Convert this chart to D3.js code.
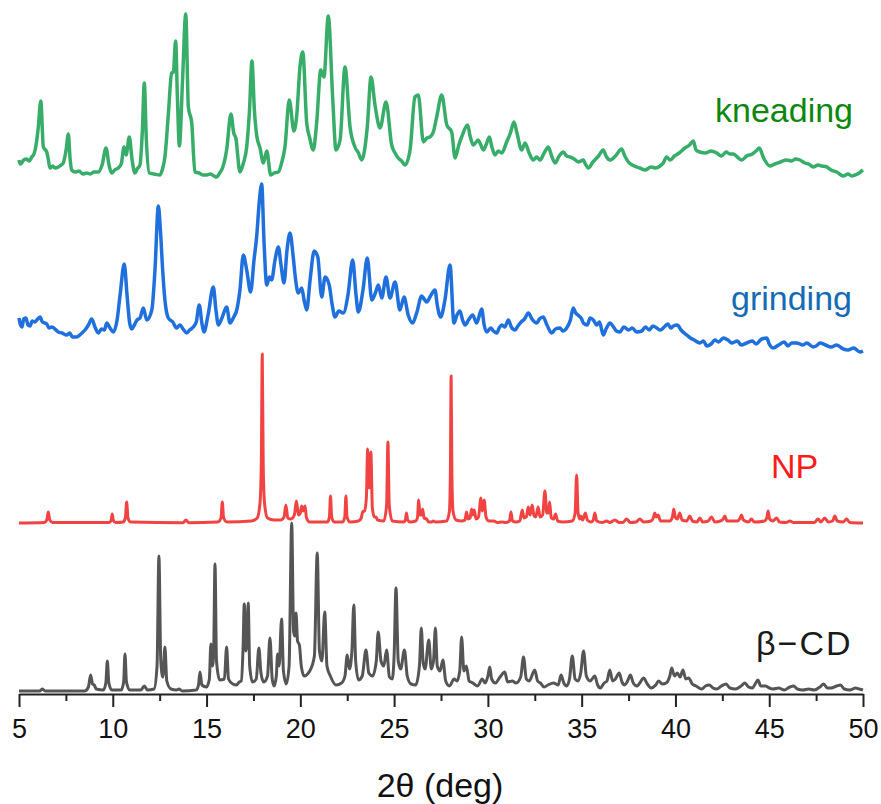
<!DOCTYPE html>
<html>
<head>
<meta charset="utf-8">
<script src="https://cdn.jsdelivr.net/npm/d3@7"></script>
<style>
  html, body { margin: 0; padding: 0; background: #fff; }
  svg { display: block; }
</style>
</head>
<body>
<svg id="chart" width="881" height="804"></svg>
<script>
// ---------------- DATA (2θ in degrees, intensity in a.u. above each trace's own baseline) ----------------
const seriesNames = ["β−CD", "NP", "grinding", "kneading"];
const xTickValues = [5, 10, 15, 20, 25, 30, 35, 40, 45, 50];
const xMinorTickValues = [7.5, 12.5, 17.5, 22.5, 27.5, 32.5, 37.5, 42.5, 47.5];

const betaCD = [[5.0,0],[6.1,0],[6.24,2],[6.4,0],[8.5,0],[8.7,4],[8.82,16],[8.92,7],[9.01,6],[9.12,2],[9.5,1],[9.63,8],[9.71,30],[9.79,8],[9.95,1],[10.45,1],[10.58,9],[10.65,37],[10.73,9],[10.9,1],[11.5,1],[11.68,5],[11.85,1],[12.2,2],[12.36,25],[12.46,135],[12.56,30],[12.67,14],[12.78,44],[12.88,10],[13.1,2],[13.4,1],[13.53,2],[13.7,0],[14.45,1],[14.57,6],[14.65,19],[14.75,6],[15.0,4],[15.15,12],[15.23,47],[15.32,25],[15.38,40],[15.45,127],[15.53,30],[15.7,11],[15.95,12],[16.07,44],[16.17,12],[16.4,7],[16.6,6],[16.74,9],[16.85,10],[16.95,45],[17.01,87],[17.1,40],[17.16,50],[17.22,88],[17.3,25],[17.45,9],[17.65,12],[17.79,43],[17.9,18],[18.05,9],[18.25,15],[18.38,53],[18.5,12],[18.6,5],[18.72,15],[18.79,37],[18.87,25],[19.0,72],[19.1,20],[19.25,7],[19.4,25],[19.54,168],[19.64,60],[19.7,55],[19.77,78],[19.85,50],[19.95,46],[20.05,25],[20.2,15],[20.5,20],[20.75,35],[20.9,138],[21.02,40],[21.15,30],[21.3,79],[21.42,25],[21.6,15],[21.9,6],[22.2,8],[22.38,15],[22.5,36],[22.62,22],[22.75,40],[22.85,86],[22.95,30],[23.1,11],[23.3,15],[23.5,41],[23.65,18],[23.85,15],[24.05,30],[24.15,59],[24.3,30],[24.45,25],[24.6,41],[24.75,14],[24.9,12],[25.0,35],[25.1,103],[25.22,30],[25.35,22],[25.55,41],[25.7,15],[25.9,7],[26.15,6],[26.35,25],[26.45,63],[26.55,28],[26.65,22],[26.85,51],[26.98,22],[27.1,30],[27.2,63],[27.3,25],[27.45,20],[27.6,31],[27.75,10],[27.95,5],[28.2,12],[28.35,10],[28.5,20],[28.6,54],[28.72,20],[28.85,25],[29.0,10],[29.2,8],[29.45,5],[29.7,12],[29.85,8],[30.0,15],[30.1,24],[30.2,12],[30.4,8],[30.65,14],[30.9,19],[31.05,9],[31.3,10],[31.5,8],[31.75,14],[31.9,34],[32.05,12],[32.2,10],[32.5,21],[32.65,10],[32.8,8],[33.0,4],[33.2,6],[33.5,8],[33.75,6],[33.9,16],[34.05,8],[34.2,5],[34.35,12],[34.5,35],[34.65,12],[34.8,10],[34.95,18],[35.1,40],[35.25,15],[35.45,10],[35.7,15],[35.85,6],[36.0,3],[36.2,8],[36.35,10],[36.5,21],[36.65,10],[36.8,12],[37.0,18],[37.15,9],[37.3,6],[37.45,10],[37.6,16],[37.75,8],[37.95,5],[38.1,8],[38.3,13],[38.5,7],[38.7,3],[38.95,6],[39.1,10],[39.3,7],[39.5,8],[39.7,15],[39.8,23],[39.95,15],[40.1,18],[40.25,14],[40.4,21],[40.55,12],[40.7,13],[40.9,7],[41.1,5],[41.4,2],[41.6,5],[41.8,6],[42.0,3],[42.2,2],[42.45,5],[42.7,7],[42.9,3],[43.2,2],[43.5,5],[43.7,8],[43.9,4],[44.1,3],[44.25,7],[44.4,11],[44.55,5],[44.8,5],[45.0,3],[45.2,2],[45.5,3],[45.8,1],[46.1,4],[46.3,5],[46.5,2],[46.8,1],[47.1,2],[47.4,1],[47.7,4],[47.9,7],[48.1,3],[48.3,3],[48.6,5],[48.8,6],[49.0,2],[49.3,1],[49.6,3],[49.8,2],[50.0,1]];

const np = [[5.0,0],[6.35,0.5],[6.48,3],[6.56,11],[6.64,3],[6.8,0.5],[9.8,0.5],[9.91,2.5],[9.97,9],[10.03,2.5],[10.15,0.5],[10.55,1],[10.67,5],[10.74,21],[10.81,5],[10.95,1],[13.75,0.3],[13.9,3],[14.05,0.3],[15.6,1],[15.77,5],[15.84,21],[15.91,5],[16.1,1],[17.4,2],[17.7,5],[17.85,20],[17.92,60],[17.97,169],[18.02,60],[18.09,20],[18.25,5],[18.6,3],[18.95,3],[19.13,6],[19.23,18],[19.33,5],[19.5,4],[19.68,8],[19.79,22],[19.9,8],[20.0,10],[20.07,17],[20.15,12],[20.25,17],[20.33,5],[20.5,1],[21.45,1],[21.55,6],[21.61,27],[21.67,6],[21.8,1],[22.25,1],[22.37,6],[22.43,27],[22.49,6],[22.65,1],[23.1,2],[23.25,5],[23.32,11],[23.42,12],[23.52,25],[23.59,74],[23.67,35],[23.7,40],[23.76,71],[23.84,15],[23.95,6],[24.03,6],[24.12,3],[24.45,2],[24.6,18],[24.67,81],[24.74,18],[24.9,2],[25.5,1],[25.6,3],[25.66,10],[25.72,3],[25.85,1],[26.15,2],[26.25,6],[26.31,23],[26.38,8],[26.45,8],[26.52,14],[26.6,5],[26.73,4],[26.85,1],[27.0,1],[27.08,2],[27.2,1],[27.8,2],[27.95,12],[28.0,50],[28.04,147],[28.08,50],[28.14,12],[28.3,3],[28.6,2],[28.78,3],[28.86,11],[28.95,4],[29.05,5],[29.13,14],[29.2,8],[29.27,13],[29.37,4],[29.5,6],[29.63,25],[29.7,12],[29.8,23],[29.9,6],[30.05,2],[30.32,2],[30.5,0.5],[30.75,1],[30.95,0.5],[31.15,2],[31.23,11],[31.31,2],[31.5,1],[31.7,2],[31.83,13],[31.93,5],[32.05,6],[32.15,16],[32.25,8],[32.36,18],[32.45,8],[32.55,6],[32.68,16],[32.78,6],[32.92,8],[33.04,32],[33.14,10],[33.22,10],[33.29,21],[33.38,5],[33.5,4],[33.61,9],[33.72,2],[34.0,1],[34.5,2],[34.65,10],[34.73,48],[34.81,10],[34.9,4],[34.96,7],[35.05,3],[35.2,10],[35.3,3],[35.5,1],[35.62,3],[35.7,10],[35.8,2],[36.1,0.5],[36.33,2],[36.5,0.5],[36.77,3],[37.0,0.5],[37.2,0.5],[37.39,4],[37.6,0.5],[37.9,1],[38.1,4],[38.3,1],[38.7,2],[38.82,5],[38.9,10],[38.98,6],[39.08,8],[39.2,2],[39.7,2],[39.84,6],[39.91,14],[39.99,6],[40.1,4],[40.23,10],[40.35,3],[40.6,2],[40.77,7],[40.9,2],[41.15,1],[41.3,5],[41.45,1],[41.75,2],[41.92,6],[42.1,1],[42.4,2],[42.55,4],[42.63,7],[42.75,2],[43.3,2],[43.45,5],[43.52,8],[43.62,3],[43.9,1],[44.05,4],[44.2,1],[44.75,2],[44.87,5],[44.94,12],[45.02,4],[45.2,2],[45.39,5],[45.55,1],[45.9,0.5],[46.1,2],[46.3,0.5],[47.4,0.5],[47.61,4],[47.75,1],[47.96,5],[48.15,1],[48.38,2],[48.5,7],[48.62,2],[48.95,1],[49.12,4],[49.3,0.5],[50.0,0]];

const grinding = [[5.0,37],[5.08,30],[5.16,28],[5.25,36],[5.37,37],[5.48,30],[5.59,29],[5.7,34],[5.85,33],[5.95,35],[6.12,38],[6.25,33],[6.48,31],[6.6,27],[6.75,28],[6.97,25],[7.1,23],[7.3,22],[7.54,20],[7.7,22],[7.85,18],[8.08,18],[8.3,21],[8.52,25],[8.7,30],[8.88,36],[9.05,28],[9.23,22],[9.4,26],[9.55,25],[9.68,32],[9.85,27],[10.03,23],[10.23,35],[10.39,60],[10.61,91],[10.76,60],[10.9,32],[11.01,26],[11.15,30],[11.29,35],[11.45,37],[11.63,47],[11.81,35],[12.08,45],[12.25,85],[12.43,149],[12.54,125],[12.66,85],[12.78,55],[12.96,37],[13.2,33],[13.4,27],[13.58,30],[13.75,26],[13.94,22],[14.1,25],[14.29,28],[14.45,33],[14.61,50],[14.75,32],[14.86,23],[15.08,40],[15.36,68],[15.5,45],[15.63,30],[15.82,37],[16.07,48],[16.25,32],[16.45,38],[16.61,45],[16.78,65],[16.96,100],[17.14,85],[17.35,63],[17.53,95],[17.67,118],[17.82,155],[17.94,171],[18.06,115],[18.21,70],[18.35,78],[18.47,75],[18.65,95],[18.83,108],[18.97,90],[19.13,72],[19.29,105],[19.45,122],[19.61,100],[19.75,75],[19.89,62],[20.07,67],[20.2,55],[20.34,45],[20.52,75],[20.74,104],[20.93,98],[21.14,58],[21.32,78],[21.54,70],[21.7,50],[21.85,38],[22.05,44],[22.29,42],[22.54,60],[22.79,95],[22.97,60],[23.09,43],[23.34,65],[23.57,97],[23.81,55],[24.0,62],[24.16,70],[24.34,57],[24.57,78],[24.78,57],[25.05,73],[25.31,45],[25.53,58],[25.75,40],[25.99,32],[26.2,42],[26.47,59],[26.6,56],[26.74,53],[26.97,60],[27.18,65],[27.3,50],[27.48,38],[27.71,55],[27.98,90],[28.19,32],[28.35,40],[28.51,44],[28.65,35],[28.78,30],[29.0,36],[29.19,40],[29.4,32],[29.67,46],[29.8,30],[29.94,23],[30.15,27],[30.3,24],[30.47,22],[30.6,27],[30.75,30],[30.9,28],[31.09,35],[31.25,28],[31.45,25],[31.6,29],[31.77,33],[31.95,36],[32.16,42],[32.35,36],[32.6,32],[32.75,36],[32.95,38],[33.15,30],[33.4,22],[33.6,26],[33.84,27],[34.0,24],[34.2,27],[34.4,35],[34.55,47],[34.68,42],[34.8,40],[35.0,36],[35.09,32],[35.3,30],[35.45,37],[35.62,35],[35.8,30],[35.95,33],[36.15,20],[36.3,26],[36.51,32],[36.7,28],[36.85,24],[37.04,23],[37.25,28],[37.5,25],[37.7,27],[37.93,23],[38.2,24],[38.4,28],[38.6,25],[38.8,29],[39.0,27],[39.2,25],[39.4,28],[39.6,31],[39.75,27],[39.89,29],[40.1,30],[40.3,25],[40.6,20],[40.8,17],[41.0,15],[41.3,12],[41.5,14],[41.67,9],[41.9,11],[42.1,15],[42.3,13],[42.55,17],[42.8,15],[43.0,12],[43.3,14],[43.5,10],[43.8,12],[44.1,14],[44.3,11],[44.6,16],[44.87,17],[45.0,11],[45.22,7],[45.5,10],[45.8,13],[46.0,9],[46.2,12],[46.47,12],[46.8,10],[47.0,12],[47.35,8],[47.5,9],[47.71,12],[48.0,10],[48.3,8],[48.6,10],[48.95,6],[49.2,5],[49.5,7],[49.84,3],[50.0,4]];

const kneading = [[5.0,18],[5.07,14],[5.14,15],[5.25,18],[5.41,19],[5.55,17],[5.68,21],[5.8,24],[5.91,33],[6.03,51],[6.16,77],[6.3,31],[6.48,26],[6.55,20],[6.65,10],[6.8,12],[6.92,10],[7.1,11],[7.25,13],[7.36,15],[7.51,28],[7.63,44],[7.72,20],[7.81,8],[8.0,6],[8.2,7],[8.4,4],[8.61,5],[8.8,4],[9.0,6],[9.23,6],[9.43,13],[9.64,30],[9.8,13],[9.94,5],[10.1,8],[10.29,10],[10.45,14],[10.6,31],[10.71,23],[10.88,41],[11.03,18],[11.18,5],[11.3,9],[11.45,13],[11.58,48],[11.68,95],[11.79,38],[11.95,5],[12.2,4],[12.52,3],[12.65,9],[12.78,21],[12.96,63],[13.14,105],[13.23,106],[13.35,137],[13.45,78],[13.55,32],[13.72,98],[13.89,164],[14.03,71],[14.21,55],[14.38,6],[14.6,5],[14.8,3],[15.01,3],[15.2,4],[15.4,2],[15.54,1],[15.7,5],[15.85,10],[16.07,28],[16.3,64],[16.45,45],[16.56,40],[16.78,6],[16.95,14],[17.14,31],[17.29,68],[17.42,117],[17.55,68],[17.67,43],[17.85,30],[18.03,15],[18.21,27],[18.42,3],[18.6,5],[18.83,6],[19.0,15],[19.18,31],[19.41,78],[19.66,47],[19.81,63],[19.98,111],[20.13,126],[20.34,55],[20.5,40],[20.69,28],[20.87,55],[21.09,108],[21.26,101],[21.49,162],[21.73,78],[21.9,28],[22.12,38],[22.38,111],[22.65,51],[22.91,31],[23.1,25],[23.27,18],[23.57,51],[23.77,101],[23.98,73],[24.25,50],[24.57,76],[24.87,33],[25.05,25],[25.22,20],[25.4,17],[25.58,13],[25.85,28],[26.11,81],[26.29,83],[26.56,36],[26.75,40],[26.91,41],[27.09,46],[27.27,61],[27.54,83],[27.81,53],[28.07,46],[28.25,20],[28.45,33],[28.6,41],[28.92,53],[29.05,42],[29.22,33],[29.49,38],[29.6,34],[29.76,28],[29.9,33],[30.08,41],[30.2,32],[30.38,23],[30.55,27],[30.74,25],[31.0,36],[31.2,45],[31.39,56],[31.55,45],[31.8,28],[31.98,35],[32.2,25],[32.42,18],[32.6,21],[32.78,18],[33.0,25],[33.22,31],[33.4,22],[33.58,15],[33.8,22],[34.02,26],[34.2,22],[34.38,21],[34.6,19],[34.82,16],[35.09,18],[35.2,14],[35.35,10],[35.6,16],[35.9,22],[36.15,28],[36.3,22],[36.51,18],[36.8,22],[37.13,29],[37.3,22],[37.49,16],[37.8,12],[38.1,10],[38.38,8],[38.7,11],[38.95,10],[39.18,12],[39.35,15],[39.53,21],[39.71,18],[39.95,22],[40.2,25],[40.5,30],[40.75,33],[40.95,37],[41.1,28],[41.31,26],[41.6,25],[41.9,27],[42.2,25],[42.45,22],[42.7,26],[42.9,24],[43.09,24],[43.3,21],[43.53,18],[43.8,22],[44.1,24],[44.3,27],[44.47,30],[44.7,20],[45.04,12],[45.3,14],[45.6,16],[45.93,18],[46.2,17],[46.4,19],[46.64,18],[46.9,15],[47.1,14],[47.35,11],[47.6,13],[47.8,12],[48.07,11],[48.3,8],[48.6,6],[48.95,2],[49.2,4],[49.4,2],[49.57,3],[49.8,5],[49.93,7],[50.0,8]];

// ---------------- LAYOUT / STYLE ----------------
const traces = [
  { name: seriesNames[0], data: betaCD,   offset: 0,   line: "#555555", width: 3,   label: "#1a1a1a", lx: 756, ly: 655, ls: 2 },
  { name: seriesNames[1], data: np,       offset: 168, line: "#f24343", width: 3,   label: "#ff1a1a", lx: 771, ly: 478, ls: 0 },
  { name: seriesNames[2], data: grinding, offset: 336, line: "#1f6fdc", width: 3.5, label: "#156bb3", lx: 731, ly: 310, ls: 0 },
  { name: seriesNames[3], data: kneading, offset: 513, line: "#38ad6a", width: 3.5, label: "#0d870d", lx: 715, ly: 122, ls: 0 }
];

const svg = d3.select("#chart");
const x = d3.scaleLinear().domain([5, 50]).range([19, 863]);
const y = d3.scaleLinear().domain([0, 680]).range([691, 11]);
const font = "'Liberation Sans', Arial, Helvetica, sans-serif";

const line = d3.line().curve(d3.curveMonotoneX);

traces.forEach(t => {
  line.x(d => x(d[0])).y(d => y(d[1] + t.offset));
  svg.append("path")
    .datum(t.data)
    .attr("d", line)
    .attr("fill", "none")
    .attr("stroke", t.line)
    .attr("stroke-width", t.width)
    .attr("stroke-linejoin", "round");
  svg.append("text")
    .attr("x", t.lx).attr("y", t.ly)
    .attr("font-family", font)
    .attr("font-size", 34)
    .attr("letter-spacing", t.ls)
    .attr("fill", t.label)
    .text(t.name);
});

// x axis
const axisY = 694;
const axisG = svg.append("g").attr("transform", `translate(0,${axisY})`)
  .call(d3.axisBottom(x).tickValues(xTickValues).tickFormat(d3.format("d"))
        .tickSize(13).tickSizeOuter(0).tickPadding(12));
axisG.select(".domain").attr("stroke", "#222").attr("stroke-width", 2);
axisG.selectAll(".tick line").attr("stroke", "#222").attr("stroke-width", 2);
axisG.selectAll(".tick text").attr("font-family", font).attr("font-size", 27).attr("fill", "#111");

const minorG = svg.append("g").attr("transform", `translate(0,${axisY})`)
  .call(d3.axisBottom(x).tickValues(xMinorTickValues).tickFormat("").tickSize(7).tickSizeOuter(0));
minorG.select(".domain").remove();
minorG.selectAll(".tick line").attr("stroke", "#222").attr("stroke-width", 2);

svg.append("text")
  .attr("x", 440).attr("y", 797)
  .attr("text-anchor", "middle")
  .attr("font-family", font)
  .attr("font-size", 34)
  .attr("fill", "#111")
  .text("2θ (deg)");
</script>
</body>
</html>
